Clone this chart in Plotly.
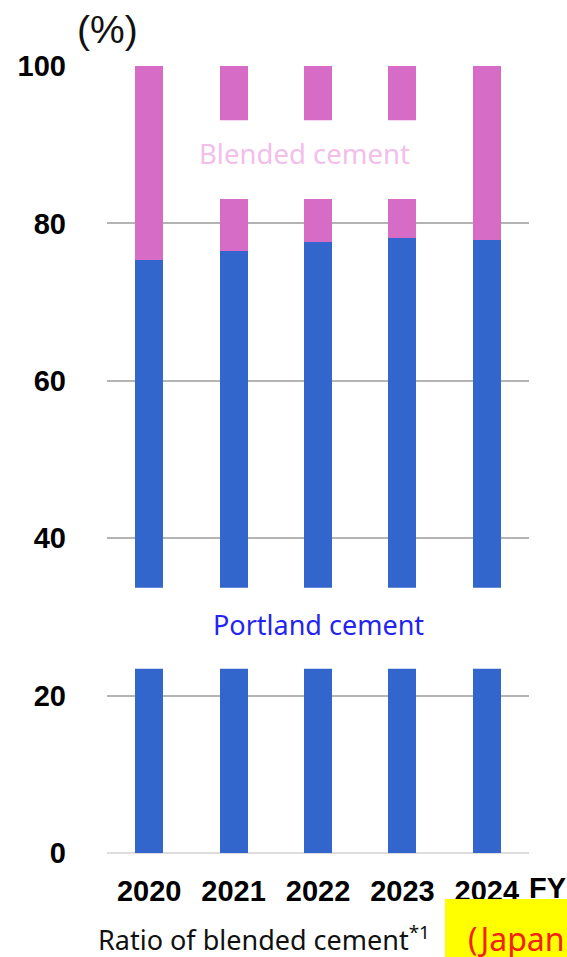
import plotly.graph_objects as go

years = ["2020", "2021", "2022", "2023", "2024"]
portland = [75.3, 76.5, 77.7, 78.1, 77.9]
blended = [24.7, 23.5, 22.3, 21.9, 22.1]
y_ticks = [0, 20, 40, 60, 80, 100]

W, H = 567, 957
L, R, T, B = 107, 38, 66, 104
PW, PH = W - L - R, H - T - B


def px(x):
    return (x - L) / PW


def py(y):
    return (H - B - y) / PH


fig = go.Figure()
fig.add_trace(go.Bar(x=years, y=portland, name="Portland cement",
                     marker=dict(color="#3366CC", line=dict(width=0)), width=0.33))
fig.add_trace(go.Bar(x=years, y=blended, name="Blended cement",
                     marker=dict(color="#D76CC7", line=dict(width=0)), width=0.33))

shapes = [
    # white masks behind series labels
    dict(type="rect", xref="x", yref="y", x0=0.5, x1=3.5, y0=83.1, y1=93.1,
         fillcolor="white", line=dict(width=0), layer="above"),
    dict(type="rect", xref="x", yref="y", x0=-0.5, x1=4.5, y0=23.4, y1=33.7,
         fillcolor="white", line=dict(width=0), layer="above"),
    # yellow highlight
    dict(type="rect", xref="paper", yref="paper", x0=px(445), x1=px(570),
         y0=py(899), y1=py(960), fillcolor="#FFFF00", line=dict(width=0), layer="above"),
]

ann = [
    dict(text="Blended cement", x=1.84, y=88.9, xref="x", yref="y", showarrow=False,
         font=dict(family="Noto Sans", size=27.5, color="#F2BEEA")),
    dict(text="Portland cement", x=2, y=29.0, xref="x", yref="y", showarrow=False,
         font=dict(family="Noto Sans", size=27, color="#2424EE")),
    dict(text="(%)", x=px(107), y=py(30), xref="paper", yref="paper", showarrow=False,
         xanchor="center", yanchor="middle",
         font=dict(family="Liberation Sans", size=39, color="#111111")),
    dict(text="<b>FY</b>", x=px(527), y=py(888), xref="paper", yref="paper", showarrow=False,
         xanchor="left", yanchor="middle",
         font=dict(family="Liberation Sans", size=29, color="#000000")),
    dict(text="Ratio of blended cement<sup>*1</sup>", x=px(96), y=py(938), xref="paper",
         yref="paper", showarrow=False, xanchor="left", yanchor="middle",
         font=dict(family="Noto Sans", size=27, color="#111111")),
    dict(text="(Japan", x=px(466), y=py(938), xref="paper", yref="paper", showarrow=False,
         xanchor="left", yanchor="middle",
         font=dict(family="Noto Sans", size=32, color="#F42010")),
]

fig.update_layout(
    width=W, height=H,
    margin=dict(l=L, r=R, t=T, b=B, pad=0),
    barmode="stack",
    showlegend=False,
    plot_bgcolor="white", paper_bgcolor="white",
    shapes=shapes, annotations=ann,
    xaxis=dict(type="category", showgrid=False, showline=False, ticks="",
               tickfont=dict(family="Liberation Sans", size=29, color="#000000", weight="bold"),
               ticklabelstandoff=18, range=[-0.5, 4.5]),
    yaxis=dict(range=[0, 100], tickvals=y_ticks, ticktext=[str(v) for v in y_ticks],
               showgrid=True, gridcolor="#B4B4B4", gridwidth=2,
               zeroline=True, zerolinecolor="#DDDDDD", zerolinewidth=2,
               showline=False, ticks="",
               tickfont=dict(family="Liberation Sans", size=29, color="#000000", weight="bold"),
               ticklabelstandoff=40),
)

fig.write_html("out.html", config={"displayModeBar": False},
               post_script="document.body.style.margin='0';document.body.style.overflow='hidden';")
